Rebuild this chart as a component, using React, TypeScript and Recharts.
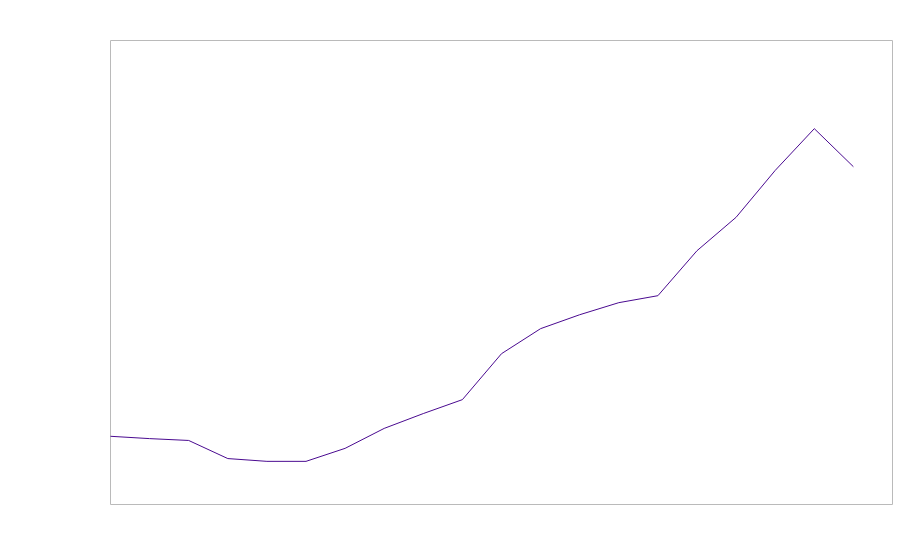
import { LineChart, Line, XAxis, YAxis, ReferenceArea } from 'recharts';

// x positions (periods) and the series value, 0–100 scale
const periods = [0, 1, 2, 3, 4, 5, 6, 7, 8, 9, 10, 11, 12, 13, 14, 15, 16, 17, 18, 19];
const values = [
  14.7, 14.2, 13.8, 9.9, 9.3, 9.3, 12.1, 16.4, 19.6, 22.6,
  32.5, 37.9, 40.9, 43.5, 45.0, 54.7, 61.9, 72.0, 81.0, 72.8,
];
const xDomain = [0, 20];
const yDomain = [0, 100];

const data = periods.map((p, i) => ({ period: p, value: values[i] }));

export default function App() {
  return (
    <div style={{ position: 'absolute', left: 0, top: 0, width: 900, height: 560 }}>
      <LineChart
        width={900}
        height={560}
        data={data}
        // half-pixel offsets keep the 1px frame crisp
        margin={{ top: 40.5, right: 7.5, left: 110.5, bottom: 55.5 }}
      >
        <XAxis dataKey="period" type="number" domain={xDomain} hide />
        <YAxis domain={yDomain} hide />
        {/* plot frame */}
        <ReferenceArea
          x1={xDomain[0]}
          x2={xDomain[1]}
          y1={yDomain[0]}
          y2={yDomain[1]}
          fill="none"
          stroke="#bababa"
          strokeWidth={1}
          ifOverflow="visible"
        />
        <Line
          type="linear"
          dataKey="value"
          stroke="#4a0a90"
          strokeWidth={1}
          dot={false}
          isAnimationActive={false}
        />
      </LineChart>
    </div>
  );
}
